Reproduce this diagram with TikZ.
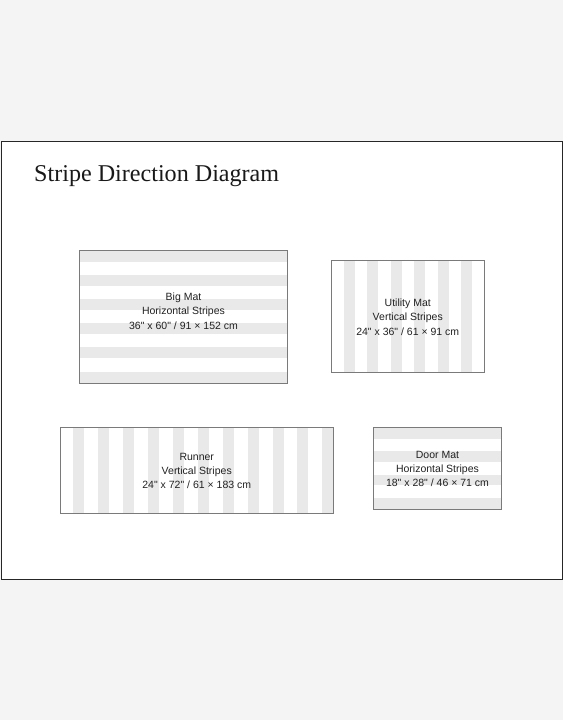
\documentclass[tikz,border=0pt]{standalone}
\usepackage{fontspec}
\setmainfont{Liberation Serif}
\newfontfamily\labelfont{Liberation Sans}[Ligatures=TeXOff]
\begin{document}
\begin{tikzpicture}[x=1pt,y=-1pt,
  stripe/.style={fill=stripegray,draw=none},
  matbox/.style={draw=boxgray,line width=0.9pt,fill=none,inner sep=0pt},
  matlabel/.style={font=\labelfont\fontsize{10.5}{14.4}\selectfont,text=labelgray,align=center,inner sep=0pt},
]
\definecolor{stripegray}{HTML}{E9E9E9}
\definecolor{boxgray}{HTML}{7A7A7A}
\definecolor{labelgray}{HTML}{222222}
\definecolor{pagegray}{HTML}{F4F4F4}
\useasboundingbox (0,0) rectangle (563,720);
\fill[pagegray] (0,0) rectangle (563,720);
\node[draw=black!85,line width=1.3pt,fill=white,inner sep=0pt,minimum width=561pt,minimum height=438pt,anchor=north west] (frame) at (0.6,141) {};
\node[anchor=base west,inner sep=0pt,font=\fontsize{24.1}{28}\selectfont,text=black!90] (title) at (34,181) {Stripe Direction Diagram};

% Big Mat - horizontal stripes
\foreach \k in {0,...,5} {\fill[stripe] (79.5,250.5+24.2*\k) rectangle (287,261.5+24.2*\k);}
\node[matbox,minimum width=207.5pt,minimum height=132.5pt] (big) at (183.25,316.75) {};
\node[matlabel] (biglabel) at (183.5,311) {Big Mat\\Horizontal Stripes\\36" x 60" / 91 × 152 cm};

% Utility Mat - vertical stripes
\foreach \k in {0,...,5} {\fill[stripe] (344+23.4*\k,260.5) rectangle (355+23.4*\k,372.5);}
\node[matbox,minimum width=153.5pt,minimum height=112pt] (utility) at (407.75,316.5) {};
\node[matlabel] (utilitylabel) at (407.75,317) {Utility Mat\\Vertical Stripes\\24" x 36" / 61 × 91 cm};

% Runner - vertical stripes
\foreach \k in {0,...,10} {\fill[stripe] (73.3+24.9*\k,427.5) rectangle (84.3+24.9*\k,513.5);}
\node[matbox,minimum width=273.5pt,minimum height=86pt] (runner) at (196.75,470.5) {};
\node[matlabel] (runnerlabel) at (196.75,471) {Runner\\Vertical Stripes\\24" x 72" / 61 × 183 cm};

% Door Mat - horizontal stripes
\foreach \k in {0,...,3} {\fill[stripe] (373.5,428+23.4*\k) rectangle (501.5,438.5+23.4*\k);}
\node[matbox,minimum width=128pt,minimum height=82pt] (door) at (437.5,468.5) {};
\node[matlabel] (doorlabel) at (437.5,469) {Door Mat\\Horizontal Stripes\\18" x 28" / 46 × 71 cm};
\end{tikzpicture}
\end{document}
